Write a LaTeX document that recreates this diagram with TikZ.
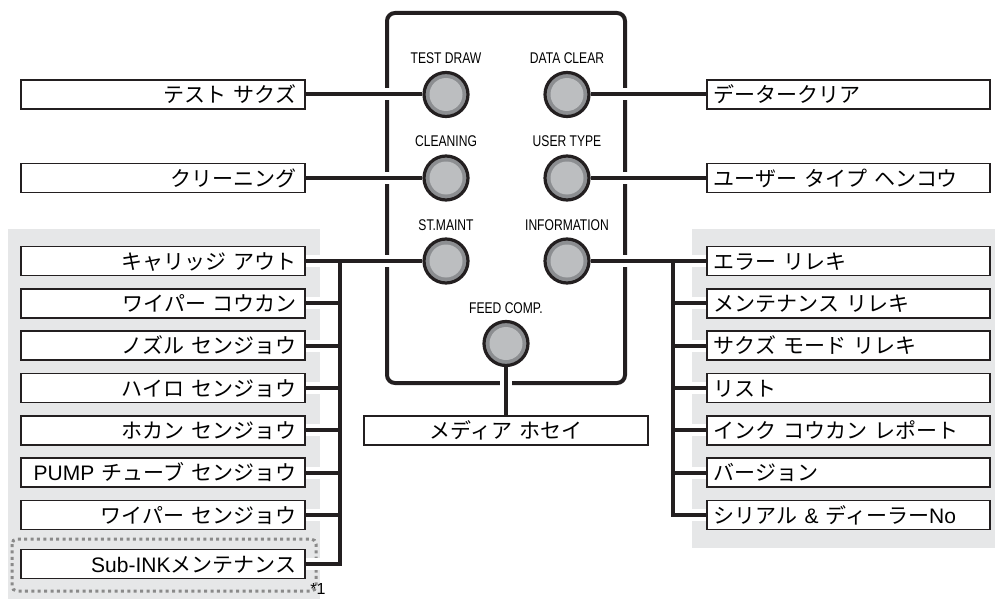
\documentclass[tikz,border=0pt]{standalone}
\usepackage{fontspec}
\setmainfont{Liberation Sans}
\newfontfamily\jpfont[WordSpace=2.2]{Noto Sans CJK JP}
\newfontfamily\latfont{Liberation Sans}
\newfontfamily\condfont[FakeStretch=0.78]{Liberation Sans}
\usetikzlibrary{positioning}
\definecolor{panelgray}{HTML}{E6E7E8}
\definecolor{ringgray}{HTML}{8C8E91}
\definecolor{capgray}{HTML}{BCBEC0}
\definecolor{ink}{HTML}{231F20}
\definecolor{dotgray}{HTML}{8A8A8A}
\pgfdeclarelayer{bg}
\pgfsetlayers{bg,main}

\begin{document}
\begin{tikzpicture}[x=1pt,y=-1pt,
  every node/.style={font=\jpfont\fontsize{21}{24}\selectfont},
  lbox/.style={draw=ink,line width=1.7pt,fill=white,minimum height=29pt,text height=18.5pt,text depth=2.5pt,inner ysep=3pt,inner xsep=9pt,text width=266pt,align=right},
  rbox/.style={lbox,inner xsep=7pt,text width=269pt,align=left},
  btn/.style={circle,draw=ink,line width=3.2pt,fill=ringgray,minimum size=44pt,inner sep=0pt,
    path picture={\fill[capgray] (path picture bounding box.center) circle (16.5pt);}},
  btnlabel/.style={font=\condfont\fontsize{15.5}{16}\selectfont,inner sep=0pt},
  conn/.style={draw=ink,line width=4pt,preaction={draw=white,line width=12pt}}]
\useasboundingbox (0,0) rectangle (995,599);
% panel buttons
\node[btn] (td) at (446,94.5) {};
\node[btn] (dc) at (567,94.5) {};
\node[btn] (cl) at (446,178) {};
\node[btn] (ut) at (567,178) {};
\node[btn] (sm) at (446,261) {};
\node[btn] (inf) at (567,261) {};
\node[btn] (fc) at (506,343.5) {};
\node[btnlabel] (tdl) at (446,58) {TEST DRAW};
\node[btnlabel] (dcl) at (567,58) {DATA CLEAR};
\node[btnlabel] (cll) at (446,141) {CLEANING};
\node[btnlabel] (utl) at (567,141) {USER TYPE};
\node[btnlabel] (sml) at (446,225) {ST.MAINT};
\node[btnlabel] (infl) at (567,225) {INFORMATION};
\node[btnlabel] (fcl) at (506,308) {FEED COMP.};
% single menus
\node[lbox,anchor=east] (ts) at (306,94.5) {テスト サクズ};
\node[lbox,anchor=east] (kr) at (306,178) {クリーニング};
\node[rbox,anchor=west] (dk) at (706,94.5) {データークリア};
\node[rbox,anchor=west] (uh) at (706,178) {ユーザー タイプ ヘンコウ};
\node[lbox,align=center] (mh) at (506,430.5) {メディア ホセイ};
% st.maint menu
\node[lbox,anchor=east] (l1) at (306,261) {キャリッジ アウト};
\node[lbox,anchor=east] (l2) at (306,303.3) {ワイパー コウカン};
\node[lbox,anchor=east] (l3) at (306,345.7) {ノズル センジョウ};
\node[lbox,anchor=east] (l4) at (306,388) {ハイロ センジョウ};
\node[lbox,anchor=east] (l5) at (306,430.3) {ホカン センジョウ};
\node[lbox,anchor=east] (l6) at (306,472.7) {{\latfont PUMP} チューブ センジョウ};
\node[lbox,anchor=east] (l7) at (306,515) {ワイパー センジョウ};
\node[lbox,anchor=east] (l8) at (306,564) {{\latfont Sub-INK}メンテナンス};
\node[font=\latfont\fontsize{16}{17}\selectfont,inner sep=0pt,anchor=base] (n1) at (318,594.5) {*1};
% information menu
\node[rbox,anchor=west] (r1) at (706,261) {エラー リレキ};
\node[rbox,anchor=west] (r2) at (706,303.3) {メンテナンス リレキ};
\node[rbox,anchor=west] (r3) at (706,345.7) {サクズ モード リレキ};
\node[rbox,anchor=west] (r4) at (706,388) {リスト};
\node[rbox,anchor=west] (r5) at (706,430.3) {インク コウカン レポート};
\node[rbox,anchor=west] (r6) at (706,472.7) {バージョン};
\node[rbox,anchor=west] (r7) at (706,515) {シリアル {\latfont\&} ディーラー{\latfont No}};
\coordinate (lbus) at (340,261);
\coordinate (rbus) at (673,261);
\begin{pgfonlayer}{bg}
\fill[panelgray] (8,229) rectangle (320,599);
\fill[panelgray] (692,229) rectangle (995,548);
\draw[dotgray,line width=3pt,dash pattern=on 3pt off 3.4pt,rounded corners=5pt] (12,539) rectangle (316,591);
\draw[ink,line width=4pt,rounded corners=8pt] (387,13) rectangle (625,383);
\draw[conn] (ts.east) -- (td.west);
\draw[conn] (kr.east) -- (cl.west);
\draw[conn] (dc.east) -- (dk.west);
\draw[conn] (ut.east) -- (uh.west);
\draw[conn] (fc.south) -- (mh.north);
\draw[conn] (l1.east) -- (sm.west) (lbus) |- (l8.east)
  (l2.east) -- (l2.east -| lbus) (l3.east) -- (l3.east -| lbus)
  (l4.east) -- (l4.east -| lbus) (l5.east) -- (l5.east -| lbus)
  (l6.east) -- (l6.east -| lbus) (l7.east) -- (l7.east -| lbus);
\draw[conn] (inf.east) -- (r1.west) (rbus) |- (r7.west)
  (r2.west) -- (r2.west -| rbus) (r3.west) -- (r3.west -| rbus)
  (r4.west) -- (r4.west -| rbus) (r5.west) -- (r5.west -| rbus)
  (r6.west) -- (r6.west -| rbus);
\end{pgfonlayer}
\end{tikzpicture}
\end{document}
